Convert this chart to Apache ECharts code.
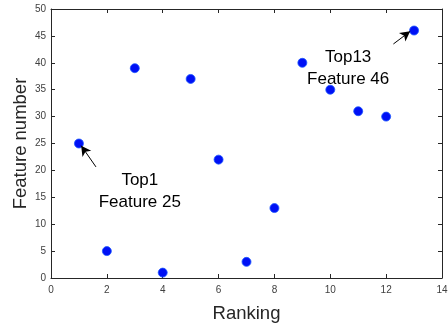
<!DOCTYPE html>
<html><head><meta charset="utf-8">
<script src="https://cdn.jsdelivr.net/npm/echarts@6/dist/echarts.min.js"></script>
<style>html,body{margin:0;padding:0;background:#fff}#c{width:448px;height:329px}</style>
</head><body><div id="c"></div>
<script>
var rankings = [1,2,3,4,5,6,7,8,9,10,11,12,13];
var featureNumbers = [25,5,39,1,37,22,3,13,40,35,31,30,46];
var xTicks = [0,2,4,6,8,10,12,14];
var yTicks = [0,5,10,15,20,25,30,35,40,45,50];
var annotations = [
  {text:'Top1\nFeature 25', at:[3.18,16.2], from:[1.61,20.65], to:[1.08,24.6]},
  {text:'Top13\nFeature 46', at:[10.64,38.9], from:[12.26,43.5], to:[12.86,45.85]}
];
var chart = echarts.init(document.getElementById('c'));
var axisCol = '#262626';
var lblCol = '#404040';
function baseAxis(extra){
  return Object.assign({
    axisLine:{show:true,onZero:false,lineStyle:{color:axisCol,width:1}},
    axisTick:{show:true,inside:true,length:4,lineStyle:{color:axisCol}},
    splitLine:{show:false}
  }, extra);
}
chart.setOption({
  animation:false,
  grid:{left:51,right:6,top:9,bottom:51,containLabel:false,outerBoundsMode:'none'},
  xAxis:[
    baseAxis({type:'value',min:xTicks[0],max:xTicks[xTicks.length-1],interval:2,position:'bottom',
      axisLabel:{color:lblCol,fontSize:10,fontFamily:'Liberation Sans',margin:7},
      name:'Ranking',nameLocation:'middle',nameGap:26,
      nameTextStyle:{color:axisCol,fontSize:18.5,fontFamily:'Liberation Sans'}}),
    baseAxis({type:'value',min:0,max:14,interval:2,position:'top',axisLabel:{show:false}})
  ],
  yAxis:[
    baseAxis({type:'value',min:yTicks[0],max:yTicks[yTicks.length-1],interval:5,position:'left',
      axisLabel:{color:lblCol,fontSize:10,fontFamily:'Liberation Sans',margin:5},
      name:'Feature number',nameLocation:'middle',nameGap:21,nameMoveOverlap:false,
      nameTextStyle:{color:axisCol,fontSize:18.5,fontFamily:'Liberation Sans'}}),
    baseAxis({type:'value',min:0,max:50,interval:5,position:'right',axisLabel:{show:false}})
  ],
  series:[{
    type:'scatter',
    data:rankings.map(function(r,i){return [r,featureNumbers[i]];}),
    symbolSize:9,
    itemStyle:{color:'#0010f5',borderColor:'#1a55ff',borderWidth:0.8,opacity:1},
    markLine:{
      silent:true,
      symbol:['none','arrow'],
      symbolSize:[8,10],
      lineStyle:{color:'#000',width:1,type:'solid'},
      label:{show:false},
      data:annotations.map(function(a){return [{coord:a.from},{coord:a.to}];})
    },
    markPoint:{
      silent:true,
      symbol:'circle',symbolSize:0,
      label:{show:true,position:'inside',color:'#000',fontSize:17,fontFamily:'Liberation Sans',lineHeight:22,align:'center',verticalAlign:'middle',
        formatter:function(p){return p.data.name;}},
      data:annotations.map(function(a){return {name:a.text,coord:a.at};})
    }
  }]
});
</script></body></html>
